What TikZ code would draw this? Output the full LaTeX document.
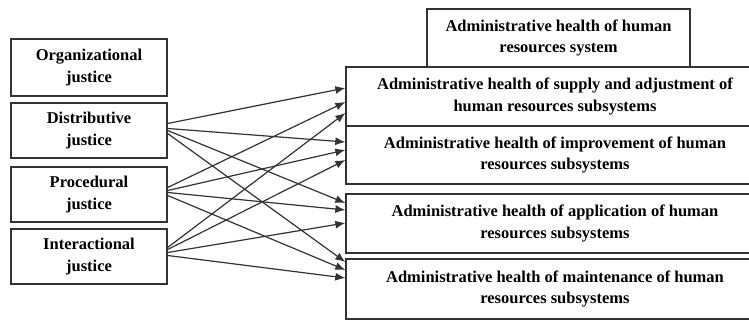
\documentclass[tikz,border=0pt]{standalone}
\usepackage{fontspec}
\setmainfont{Liberation Serif}
\usetikzlibrary{arrows.meta}
\tikzset{
  box/.style={draw=black!80,line width=1.3pt,fill=white,align=center,inner sep=0pt,
    font=\fontsize{16.5}{21.5}\selectfont\bfseries},
  leftbox/.style={box,minimum width=156pt},
  rightbox/.style={box,minimum width=418pt},
  link/.style={draw=black!80,line width=1.2pt,-{Latex[length=10pt,width=8pt]}}
}
\begin{document}
\begin{tikzpicture}[x=1pt,y=-1pt]
			\useasboundingbox (0,0) rectangle (749,320);
			\clip (0,0) rectangle (749,320);
			\node[leftbox,minimum height=57pt] (org) at (89,67.5) {Organizational\\justice};
			\node[leftbox,minimum height=55pt] (dist) at (89,130.5) {Distributive\\justice};
			\node[leftbox,minimum height=55pt] (proc) at (89,194.5) {Procedural\\justice};
			\node[leftbox,minimum height=55pt] (inter) at (89,256.5) {Interactional\\justice};
			\node[box,minimum width=263pt,minimum height=58pt] (sys) at (558.5,38) {Administrative health of human\\resources system};
			\node[rightbox,minimum height=59pt] (supply) at (555,96.5) {Administrative health of supply and adjustment of\\human resources subsystems};
			\node[rightbox,minimum height=58pt] (improve) at (555,155) {Administrative health of improvement of human\\resources subsystems};
			\node[rightbox,minimum height=59pt] (apply) at (555,223.5) {Administrative health of application of human\\resources subsystems};
			\node[rightbox,minimum height=60pt] (maint) at (555,289) {Administrative health of maintenance of human\\resources subsystems};
			\draw[link] ([yshift=7pt]dist.east) to ([yshift=8.5pt]supply.west);
			\draw[link] ([yshift=2pt]dist.east) to ([yshift=13pt]improve.west);
			\draw[link] (dist.east) to ([yshift=20.5pt]apply.west);
			\draw[link] ([yshift=-3pt]dist.east) to ([yshift=27pt]maint.west);
			\draw[link] ([yshift=7pt]proc.east) to ([yshift=-5.5pt]supply.west);
			\draw[link] ([yshift=4pt]proc.east) to ([yshift=5pt]improve.west);
			\draw[link] ([yshift=2pt]proc.east) to ([yshift=13.5pt]apply.west);
			\draw[link] ([yshift=-1pt]proc.east) to ([yshift=19pt]maint.west);
			\draw[link] ([yshift=9pt]inter.east) to ([yshift=-16.5pt]supply.west);
			\draw[link] ([yshift=7pt]inter.east) to ([yshift=-5pt]improve.west);
			\draw[link] ([yshift=4pt]inter.east) to ([yshift=0.5pt]apply.west);
			\draw[link] ([yshift=1pt]inter.east) to ([yshift=11pt]maint.west);
\end{tikzpicture}
\end{document}
